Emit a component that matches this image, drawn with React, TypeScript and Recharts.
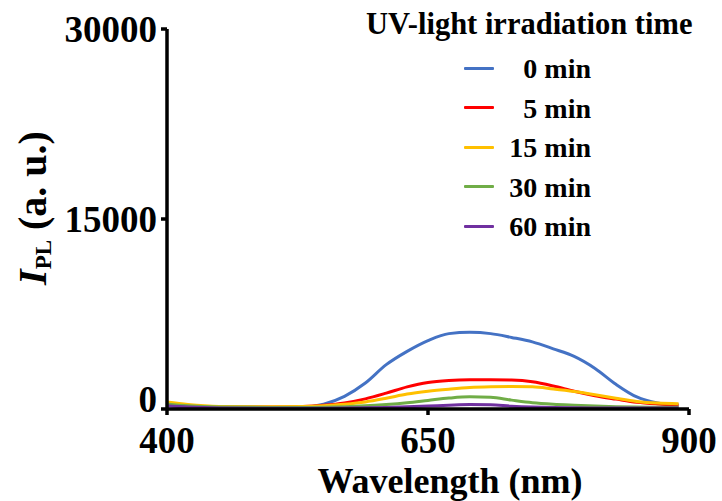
import { LineChart, Line, XAxis, YAxis, Legend } from "recharts"

const FONT = '"Liberation Serif", "Times New Roman", serif'

// Emission wavelength grid (nm)
const wavelengths = [400, 420, 450, 500, 530, 550, 570, 590, 610, 630, 650, 670, 690, 710, 730, 750, 770, 790, 810, 830, 850, 870, 890]

// PL intensity (a.u.) after each irradiation time
const pl0min = [300, 200, 120, 120, 150, 380, 1000, 2050, 3500, 4550, 5400, 5950, 6050, 5950, 5650, 5300, 4750, 4150, 3200, 1950, 950, 470, 300]
const pl5min = [350, 250, 150, 150, 200, 300, 480, 800, 1250, 1750, 2100, 2250, 2300, 2300, 2280, 2150, 1820, 1400, 1050, 780, 530, 400, 320]
const pl15min = [550, 350, 200, 180, 200, 260, 380, 560, 850, 1180, 1400, 1560, 1690, 1750, 1770, 1750, 1580, 1380, 1130, 850, 600, 470, 420]
const pl30min = [400, 250, 150, 120, 120, 140, 180, 250, 360, 500, 680, 860, 960, 920, 700, 500, 380, 300, 230, 180, 150, 140, 130]
const pl60min = [250, 150, 80, 60, 60, 60, 70, 90, 120, 170, 230, 300, 350, 330, 220, 150, 110, 90, 80, 70, 70, 70, 70]

const seriesNames = ["0 min", "5 min", "15 min", "30 min", "60 min"]
const seriesColors = ["#4472C4", "#FF0000", "#FFC000", "#70AD47", "#7030A0"]
const seriesValues = [pl0min, pl5min, pl15min, pl30min, pl60min]

const xTicks = [400, 650, 900]
const yTicks = [0, 15000, 30000]
const legendTitle = "UV-light irradiation time"

const data = wavelengths.map((wl, i) => {
  const row: Record<string, number> = { wl }
  seriesValues.forEach((vals, j) => {
    row[`s${j}`] = vals[i]
  })
  return row
})

function LegendBox({ payload }: any) {
  const items = [...(payload || [])].sort(
    (a: any, b: any) => seriesNames.indexOf(a.value) - seriesNames.indexOf(b.value)
  )
  return (
    <div style={{ position: "relative", width: 722, height: 250, fontFamily: FONT, fontWeight: "bold", color: "#000" }}>
      <div style={{ position: "absolute", left: 366, top: 7, fontSize: 30.5, lineHeight: "34px", whiteSpace: "nowrap" }}>
        {legendTitle}
      </div>
      {items.map((item: any, i: number) => (
        <div key={item.value} style={{ position: "absolute", left: 460, top: 53 + i * 39.6, width: 131, height: 32 }}>
          <div style={{ position: "absolute", left: 4, top: 13.5, width: 30, height: 3, background: item.color, borderRadius: 1 }} />
          <div style={{ position: "absolute", right: 0, top: 0, fontSize: 28, lineHeight: "32px", whiteSpace: "nowrap" }}>
            {item.value}
          </div>
        </div>
      ))}
    </div>
  )
}

// y tick labels; the zero label sits a little above its tick so it clears "400"
function YTick({ x, y, payload }: any) {
  const lift = payload.value === 0 ? -10 : 0
  return (
    <text
      x={x}
      y={y + lift}
      dy="0.34em"
      textAnchor="end"
      fontFamily={FONT}
      fontWeight="bold"
      fontSize={37}
      fill="#000"
    >
      {payload.value}
    </text>
  )
}

function YTitle() {
  return (
    <text
      x={46}
      y={208}
      transform="rotate(-90 46 208)"
      textAnchor="middle"
      fontFamily={FONT}
      fontWeight="bold"
      fontSize={40}
      fill="#000"
    >
      <tspan fontStyle="italic">I</tspan>
      <tspan fontSize={23} dy={5}>PL</tspan>
      <tspan dy={-5}> (a. u.)</tspan>
    </text>
  )
}

function XTitle() {
  return (
    <text x={450} y={493} textAnchor="middle" fontFamily={FONT} fontWeight="bold" fontSize={36} fill="#000">
      Wavelength (nm)
    </text>
  )
}

const tickStyle = { fill: "#000", fontSize: 37, fontWeight: "bold", fontFamily: FONT }
const axisStroke = { stroke: "#000", strokeWidth: 3.5 }

export default function App() {
  return (
    <div style={{ position: "absolute", left: 0, top: 0, width: 722, height: 501, background: "#fff" }}>
      <LineChart width={722} height={501} data={data} margin={{ top: 29, right: 33, bottom: 32, left: 67 }}>
        <XAxis
          dataKey="wl"
          type="number"
          domain={[400, 900]}
          ticks={xTicks}
          height={60}
          tick={tickStyle}
          tickSize={6}
          tickMargin={12}
          axisLine={axisStroke}
          tickLine={axisStroke}
          label={<XTitle />}
        />
        <YAxis
          type="number"
          domain={[0, 30000]}
          ticks={yTicks}
          width={100}
          tick={<YTick />}
          tickSize={6}
          tickMargin={4}
          axisLine={axisStroke}
          tickLine={axisStroke}
          label={<YTitle />}
        />
        <Legend
          layout="vertical"
          align="center"
          verticalAlign="middle"
          content={<LegendBox />}
          wrapperStyle={{ position: "absolute", left: 0, top: 0, width: 722, height: 250 }}
        />
        {seriesNames.map((name, j) => (
          <Line
            key={name}
            name={name}
            dataKey={`s${j}`}
            type="monotone"
            stroke={seriesColors[j]}
            strokeWidth={3}
            dot={false}
            activeDot={false}
            legendType="line"
            isAnimationActive={false}
          />
        ))}
      </LineChart>
    </div>
  )
}
